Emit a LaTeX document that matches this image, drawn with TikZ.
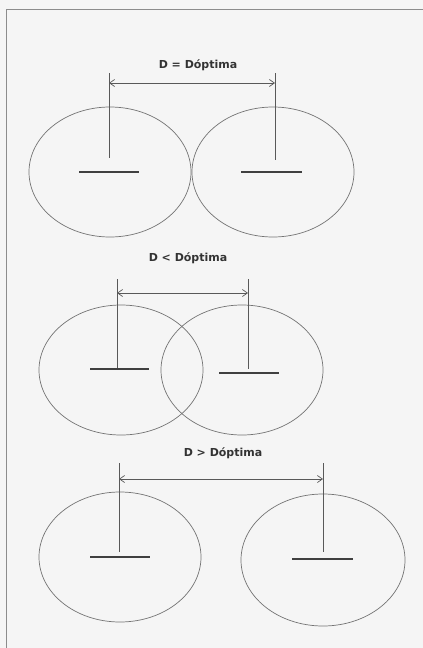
\documentclass[tikz,border=0pt]{standalone}
\usepackage{fontspec}
\setmainfont{DejaVu Sans}
\usetikzlibrary{arrows.meta}
\begin{document}
\begin{tikzpicture}[x=1pt,y=-1pt,
  frameline/.style={draw=black!45,line width=1.2pt},
  lobe/.style={draw=black!55,line width=0.7pt},
  plate/.style={draw=black!75,line width=2pt},
  lead/.style={draw=black!65,line width=0.7pt},
  dimline/.style={draw=black!65,line width=0.7pt,{Straight Barb[length=5pt,width=7pt]}-{Straight Barb[length=5pt,width=7pt]}},
  lbl/.style={font=\bfseries\fontsize{11}{13}\selectfont,text=black!80,inner sep=0pt}]
\useasboundingbox (0,0) rectangle (423,648);
\fill[black!4] (0,0) rectangle (423,648);
\draw[frameline] (6.5,648) -- (6.5,9.5) -- (423,9.5);

% ---- D = Doptima
\node[lbl] (l1) at (198,65) {D = Dóptima};
\draw[lobe] (110,172) ellipse [x radius=81, y radius=65];
\draw[lobe] (273,172) ellipse [x radius=81, y radius=65];
\coordinate (a1t) at (109,73); \coordinate (a1b) at (109,158);
\coordinate (b1t) at (275,73); \coordinate (b1b) at (275,160);
\draw[lead] (a1t) -- (a1b);
\draw[lead] (b1t) -- (b1b);
\coordinate (p1l) at (79,172); \coordinate (p1r) at (139,172);
\coordinate (q1l) at (241,172); \coordinate (q1r) at (302,172);
\draw[plate] (p1l) -- (p1r);
\draw[plate] (q1l) -- (q1r);
\coordinate (d1l) at (109,83); \coordinate (d1r) at (275,83);
\draw[dimline] (d1l) -- (d1r);

% ---- D < Doptima
\node[lbl] (l2) at (188,258) {D < Dóptima};
\draw[lobe] (121,370) ellipse [x radius=82, y radius=65];
\draw[lobe] (242,370) ellipse [x radius=81, y radius=65];
\coordinate (a2t) at (117,279); \coordinate (a2b) at (117,368);
\coordinate (b2t) at (248,279); \coordinate (b2b) at (248,369);
\draw[lead] (a2t) -- (a2b);
\draw[lead] (b2t) -- (b2b);
\coordinate (p2l) at (90,369); \coordinate (p2r) at (149,369);
\coordinate (q2l) at (219,373); \coordinate (q2r) at (279,373);
\draw[plate] (p2l) -- (p2r);
\draw[plate] (q2l) -- (q2r);
\coordinate (d2l) at (117,293); \coordinate (d2r) at (248,293);
\draw[dimline] (d2l) -- (d2r);

% ---- D > Doptima
\node[lbl] (l3) at (223,453) {D > Dóptima};
\draw[lobe] (120,557) ellipse [x radius=81, y radius=65];
\draw[lobe] (323,560) ellipse [x radius=82, y radius=66];
\coordinate (a3t) at (119,463); \coordinate (a3b) at (119,552);
\coordinate (b3t) at (323,463); \coordinate (b3b) at (323,552);
\draw[lead] (a3t) -- (a3b);
\draw[lead] (b3t) -- (b3b);
\coordinate (p3l) at (90,557); \coordinate (p3r) at (150,557);
\coordinate (q3l) at (292,559); \coordinate (q3r) at (353,559);
\draw[plate] (p3l) -- (p3r);
\draw[plate] (q3l) -- (q3r);
\coordinate (d3l) at (119,479); \coordinate (d3r) at (323,479);
\draw[dimline] (d3l) -- (d3r);
\end{tikzpicture}
\end{document}
